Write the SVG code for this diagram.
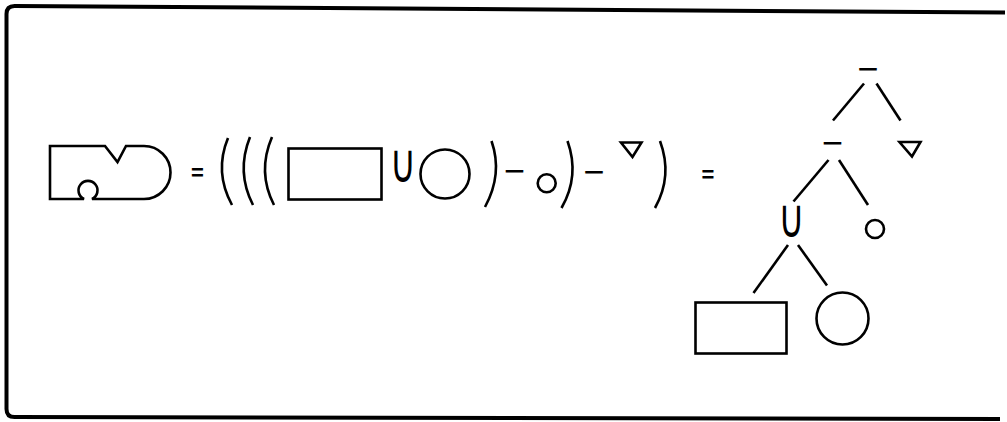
<svg xmlns="http://www.w3.org/2000/svg" width="1007" height="422" viewBox="0 0 1007 422">
<style>
.s{fill:none;stroke:#000;stroke-width:2.6;stroke-linejoin:miter;stroke-linecap:butt}
.frame{fill:none;stroke:#000;stroke-width:4}
.op{font-family:"DejaVu Sans",sans-serif;font-size:28px;fill:#000;text-anchor:middle}
.un{font-family:"DejaVu Sans",sans-serif;font-size:36px;fill:#000;text-anchor:middle}
.eq{font-family:"Liberation Sans",Arial,sans-serif;font-weight:bold;font-size:22px;fill:#000;text-anchor:middle}
</style>
<rect width="1007" height="422" fill="#fff"/>
<path class="frame" d="M1005,12.5 L14.5,6 Q6.5,6 6.5,14 L6.5,409 Q6.5,417 14.5,417 L1000,419"/>

<g id="solid">
<path class="s" d="M50,146 L105,146 L117.5,162 L126,146 L144,146 A26.5,26.5 0 0 1 144,199 L92,199 A9.5,9.5 0 1 0 84,199 L50,199 Z"/>
</g>
<g id="eq1"><text class="eq" x="197.5" y="180">=</text></g>

<g id="expression">
<path class="s" d="M228,138 Q214,172 232,205"/>
<path class="s" d="M250,137 Q236,172 253,205"/>
<path class="s" d="M272,137 Q257,172 274,205"/>
<rect class="s" x="288.5" y="148.5" width="93" height="51"/>
<text class="un" transform="translate(403,182) scale(1,1.5)">∪</text>
<circle class="s" cx="445" cy="174" r="24.5"/>
<path class="s" d="M491.5,141 Q503,174 485,207"/>
<text class="op" x="514.5" y="180">−</text>
<circle class="s" cx="546.7" cy="183.3" r="9"/>
<path class="s" d="M567.5,141 Q580,176 561.5,208"/>
<text class="op" x="594" y="181">−</text>
<path class="s" d="M621,142.5 L641.5,142.5 L632.5,157 Z"/>
<path class="s" d="M660,141 Q673,176 655,208"/>
</g>
<g id="eq2"><text class="eq" x="708" y="182">=</text></g>

<g id="connectors">
<line class="s" x1="864" y1="83.5" x2="833" y2="120.5"/>
<line class="s" x1="876.5" y1="83.5" x2="900.5" y2="120.5"/>
<line class="s" x1="828.5" y1="160" x2="793.5" y2="201.5"/>
<line class="s" x1="839" y1="160" x2="868" y2="205"/>
<line class="s" x1="788" y1="245" x2="753.5" y2="293"/>
<line class="s" x1="798" y1="245" x2="827" y2="285.5"/>
</g>

<g id="node-diff-top"><text class="op" x="868" y="77.5">−</text></g>
<g id="node-diff-mid"><text class="op" x="832.5" y="151.5">−</text></g>
<g id="node-triangle"><path class="s" d="M899.5,142 L920.5,142 L912,156.5 Z"/></g>
<g id="node-union"><text class="un" transform="translate(791.5,237) scale(1,1.5)">∪</text></g>
<g id="node-small-circle"><circle class="s" cx="875" cy="229" r="9"/></g>
<g id="node-rect"><rect class="s" x="695.5" y="302.5" width="91" height="51"/></g>
<g id="node-circle"><circle class="s" cx="842.5" cy="318.5" r="26"/></g>
</svg>
